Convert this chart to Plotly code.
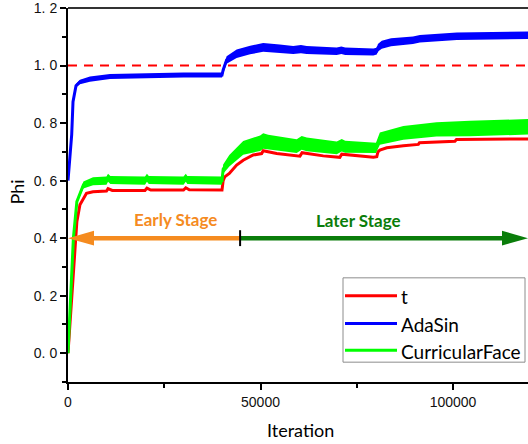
import plotly.graph_objects as go

# ---------------- data ----------------
t_x = [0, 1000, 1500, 2300, 3100, 4800, 6500, 10000, 10400, 11500, 20000, 20500, 21500,
       30000, 30600, 31500, 40000, 40300, 40700, 41900, 43800, 45500, 48100, 50300, 50700,
       54200, 60250, 60800, 66300, 70600, 71100, 79300, 80200, 80500, 81000, 82800, 87100,
       91000, 91300, 100500, 100900, 119500]
t_y = [0.0, 0.20, 0.33, 0.457, 0.516, 0.556, 0.561, 0.564, 0.572, 0.566, 0.566, 0.574, 0.567,
       0.567, 0.575, 0.568, 0.567, 0.600, 0.613, 0.625, 0.654, 0.671, 0.689, 0.694, 0.704,
       0.694, 0.685, 0.697, 0.686, 0.681, 0.692, 0.681, 0.683, 0.700, 0.706, 0.714, 0.721,
       0.726, 0.732, 0.737, 0.743, 0.745]

ada_x = [0, 960, 1300, 2080, 3100, 5700, 10900, 20000, 30000, 40000, 40300, 41200, 43800,
         47300, 50700, 55000, 58500, 60500, 62000, 69800, 71000, 72000, 79300, 80200, 80500,
         81500, 83900, 89600, 91400, 101000, 110000, 119500]
ada_y = [0.60, 0.76, 0.874, 0.93, 0.943, 0.953, 0.962, 0.965, 0.967, 0.967, 0.985, 1.019, 1.041,
         1.054, 1.063, 1.058, 1.054, 1.057, 1.054, 1.050, 1.053, 1.050, 1.047, 1.050, 1.062,
         1.072, 1.081, 1.088, 1.093, 1.102, 1.104, 1.105]
ada_spread = [0, 0, 0.003, 0.006, 0.008, 0.009, 0.009, 0.009, 0.009, 0.009, 0.010, 0.013, 0.015,
              0.015, 0.015, 0.015, 0.014, 0.014, 0.014, 0.013, 0.013, 0.013, 0.012, 0.012, 0.013,
              0.014, 0.014, 0.013, 0.013, 0.013, 0.013, 0.013]

cf_x = [0, 700, 1400, 2300, 4000, 6500, 10000, 10400, 11000, 20000, 20500, 21000, 30000, 30600,
        31000, 40000, 40300, 41900, 45500, 49900, 50700, 52000, 59400, 60700, 62000, 69800,
        71100, 72000, 79300, 80000, 81000, 87100, 95700, 104400, 119500]
cf_y = [0.0, 0.18, 0.40, 0.527, 0.585, 0.598, 0.600, 0.610, 0.602, 0.600, 0.610, 0.602, 0.600,
        0.610, 0.602, 0.600, 0.640, 0.669, 0.714, 0.730, 0.738, 0.733, 0.720, 0.731, 0.726,
        0.714, 0.723, 0.718, 0.714, 0.714, 0.746, 0.766, 0.778, 0.781, 0.787]
cf_spread = [0, 0, 0, 0.006, 0.012, 0.014, 0.014, 0.014, 0.014, 0.014, 0.014, 0.014, 0.014,
             0.014, 0.014, 0.014, 0.016, 0.020, 0.024, 0.027, 0.027, 0.026, 0.024, 0.024, 0.024,
             0.022, 0.022, 0.021, 0.018, 0.018, 0.021, 0.024, 0.025, 0.027, 0.027]

series_names = ["t", "AdaSin", "CurricularFace"]
series_colors = ["#ff0000", "#0000ff", "#00ff00"]

y_ticks = [0.0, 0.2, 0.4, 0.6, 0.8, 1.0, 1.2]
y_ticktext = ["0. 0", "0. 2", "0. 4", "0. 6", "0. 8", "1. 0", "1. 2"]
x_ticks = [0, 50000, 100000]
x_ticktext = ["0", "50000", "100000"]

ref_level = 1.0          # dashed reference line
stage_split = 44700      # boundary between early and later stage
stage_y = 0.4
x_max = 119480

# ---------------- layout geometry ----------------
W, H = 528, 444
ML, MR, MT, MB = 68, 0, 5, 62
PW, PH = W - ML - MR, H - MT - MB


def px(xp):
    return (xp - ML) / PW


def py(yp):
    return (H - MB - yp) / PH


fig = go.Figure()


def band(xs, ys, sp, color):
    up = [y + s for y, s in zip(ys, sp)]
    lo = [y - s for y, s in zip(ys, sp)]
    fig.add_trace(go.Scatter(x=xs + xs[::-1], y=up + lo[::-1], fill="toself",
                             fillcolor=color, line=dict(width=0, color=color),
                             mode="lines", hoverinfo="skip", showlegend=False))


# t (red)
fig.add_trace(go.Scatter(x=t_x, y=t_y, mode="lines", name=series_names[0],
                         line=dict(color=series_colors[0], width=3), showlegend=False))
# AdaSin (blue)
band(ada_x, ada_y, ada_spread, series_colors[1])
fig.add_trace(go.Scatter(x=ada_x, y=ada_y, mode="lines", name=series_names[1],
                         line=dict(color=series_colors[1], width=3), showlegend=False))
# CurricularFace (green)
band(cf_x, cf_y, cf_spread, series_colors[2])
fig.add_trace(go.Scatter(x=cf_x, y=cf_y, mode="lines", name=series_names[2],
                         line=dict(color=series_colors[2], width=3), showlegend=False))

orange = "#f58b1f"
dgreen = "#0a7d0a"
shapes = []
# dashed reference line
shapes.append(dict(type="line", xref="paper", x0=0, x1=1, yref="y", y0=ref_level, y1=ref_level,
                   line=dict(color="#ff0000", width=2, dash="9px,7px"), layer="above"))
# top frame line
shapes.append(dict(type="line", xref="paper", x0=0, x1=1, yref="paper", y0=1, y1=1,
                   line=dict(color="#333333", width=2)))

# arrows (head size in pixels converted to data units)
ux = x_max / PW
uy = 1.3 / PH
head_len, head_half = 26 * ux, 7.5 * uy
shapes.append(dict(type="line", x0=head_len * 0.8, x1=stage_split, y0=stage_y, y1=stage_y,
                   line=dict(color=orange, width=4.5)))
shapes.append(dict(type="path", path=f"M0,{stage_y} L{head_len},{stage_y + head_half} "
                                     f"L{head_len},{stage_y - head_half} Z",
                   fillcolor=orange, line=dict(width=0)))
shapes.append(dict(type="line", x0=stage_split, x1=x_max - head_len * 0.8, y0=stage_y, y1=stage_y,
                   line=dict(color=dgreen, width=4.5)))
shapes.append(dict(type="path", path=f"M{x_max},{stage_y} L{x_max - head_len},{stage_y + head_half} "
                                     f"L{x_max - head_len},{stage_y - head_half} Z",
                   fillcolor=dgreen, line=dict(width=0)))
shapes.append(dict(type="line", x0=stage_split, x1=stage_split, y0=stage_y - 8 * uy,
                   y1=stage_y + 8 * uy, line=dict(color="black", width=2)))

# manual legend
shapes.append(dict(type="rect", xref="paper", yref="paper", x0=px(343), x1=px(525),
                   y0=py(362), y1=py(277), line=dict(color="#8c8c8c", width=1),
                   fillcolor="white", layer="above"))
annotations = []
leg_y = [295, 323, 350]
for name, col, yy in zip(series_names, series_colors, leg_y):
    shapes.append(dict(type="line", xref="paper", yref="paper", x0=px(345), x1=px(397),
                       y0=py(yy), y1=py(yy), line=dict(color=col, width=3), layer="above"))
    annotations.append(dict(xref="paper", yref="paper", x=px(399), y=py(yy + 1), text=name,
                            showarrow=False, xanchor="left", yanchor="middle",
                            font=dict(family="Lato", size=19, color="black")))

annotations.append(dict(xref="paper", yref="paper", x=px(175), y=py(218), text="<b>Early Stage</b>",
                        showarrow=False, xanchor="center", yanchor="middle",
                        font=dict(family="Lato", size=17, color=orange)))
annotations.append(dict(xref="paper", yref="paper", x=px(358), y=py(219), text="<b>Later Stage</b>",
                        showarrow=False, xanchor="center", yanchor="middle",
                        font=dict(family="Lato", size=17, color=dgreen)))
annotations.append(dict(xref="paper", yref="paper", x=px(17), y=py(191), text="Phi", textangle=-90,
                        showarrow=False, xanchor="center", yanchor="middle",
                        font=dict(family="Lato", size=18, color="black")))
annotations.append(dict(xref="paper", yref="paper", x=px(300), y=py(430), text="Iteration",
                        showarrow=False, xanchor="center", yanchor="middle",
                        font=dict(family="Lato", size=18, color="black")))

tickfont = dict(family="Liberation Sans, Arial", size=14, color="#111111")
fig.update_layout(
    width=W, height=H, margin=dict(l=ML, r=MR, t=MT, b=MB),
    paper_bgcolor="white", plot_bgcolor="white", showlegend=False,
    shapes=shapes, annotations=annotations,
    xaxis=dict(range=[0, x_max], tickvals=x_ticks, ticktext=x_ticktext, ticks="outside",
               ticklen=6, tickwidth=1.5, tickcolor="black", showline=True, linecolor="black",
               linewidth=2, showgrid=False, zeroline=False, tickfont=tickfont,
               ticklabeloverflow="allow",
               minor=dict(dtick=25000, tick0=0, ticks="outside", ticklen=4, tickcolor="black",
                          tickwidth=1.5, showgrid=False)),
    yaxis=dict(range=[-0.1, 1.2], tickvals=y_ticks, ticktext=y_ticktext, ticks="outside",
               ticklen=6, tickwidth=1.5, tickcolor="black", showline=True, linecolor="black",
               linewidth=2, showgrid=False, zeroline=False, tickfont=tickfont,
               ticklabeloverflow="allow",
               minor=dict(dtick=0.1, tick0=0, ticks="outside", ticklen=4, tickcolor="black",
                          tickwidth=1.5, showgrid=False)),
)

fig.write_html("out.html")
